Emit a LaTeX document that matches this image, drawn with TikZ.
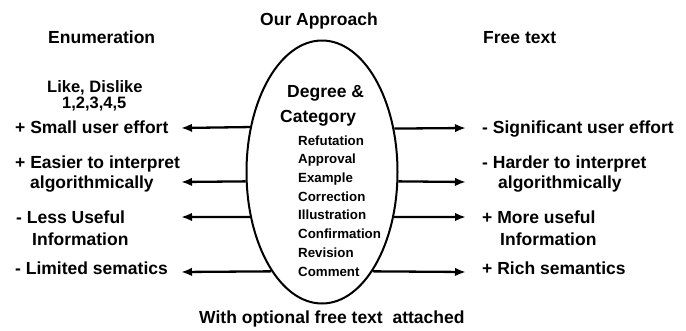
\documentclass[tikz,border=0pt]{standalone}
\usepackage{fontspec}
\setmainfont{Liberation Sans}
\usetikzlibrary{arrows.meta,shapes.geometric}
\begin{document}
\begin{tikzpicture}[x=1pt,y=-1pt,
  lbl/.style={anchor=base west, inner sep=0pt, font=\bfseries\fontsize{17.5}{20}\selectfont},
  sml/.style={anchor=base west, inner sep=0pt, font=\bfseries\fontsize{16.5}{18}\selectfont},
  item/.style={anchor=base west, inner sep=0pt, font=\bfseries\fontsize{13.3}{15}\selectfont},
  arr/.style={line width=2.3pt, -{Latex[length=11pt,width=8.5pt]}}]
\useasboundingbox (0,0) rectangle (686,330);
\node[draw, line width=2pt, ellipse, minimum width=151pt, minimum height=263pt, inner sep=0pt] (ell) at (322,172) {};
% titles
\node[lbl] (enum) at (48,43) {Enumeration};
\node[lbl] (ours) at (260,25) {Our Approach};
\node[lbl] (free) at (483,43) {Free text};
% left column
\node[sml] (like) at (47,92.5) {Like, Dislike};
\node[sml] (nums) at (62,108.5) {1,2,3,4,5};
\node[lbl] (l1) at (15,133) {+ Small user effort};
\node[lbl] (l2a) at (15,168) {+ Easier to interpret};
\node[lbl] (l2b) at (30,188) {algorithmically};
\node[lbl] (l3a) at (16,223) {- Less Useful};
\node[lbl] (l3b) at (32,245) {Information};
\node[lbl] (l4) at (15,274) {- Limited sematics};
% right column
\node[lbl] (r1) at (482,133) {- Significant user effort};
\node[lbl] (r2a) at (482,168) {- Harder to interpret};
\node[lbl] (r2b) at (498,188) {algorithmically};
\node[lbl] (r3a) at (482,223) {+ More useful};
\node[lbl] (r3b) at (500,245) {Information};
\node[lbl] (r4) at (482,274) {+ Rich semantics};
% centre
\node[lbl] (deg) at (287,97) {Degree \&};
\node[lbl] (cat) at (280,122) {Category};
\node[item] (c1) at (298,145) {Refutation};
\node[item] (c2) at (298,163.7) {Approval};
\node[item] (c3) at (298,182.4) {Example};
\node[item] (c4) at (298,201.1) {Correction};
\node[item] (c5) at (298,219.9) {Illustration};
\node[item] (c6) at (298,238.6) {Confirmation};
\node[item] (c7) at (298,257.3) {Revision};
\node[item] (c8) at (298,276) {Comment};
\node[lbl] (opt) at (199,323) {With optional free text\ \ attached};
% arrow end points
\coordinate (L1) at (181,128);
\coordinate (L2) at (181,182);
\coordinate (L3) at (181,217);
\coordinate (L4) at (181,272);
\coordinate (R1) at (466,128);
\coordinate (R2) at (466,182);
\coordinate (R3) at (466,217);
\coordinate (R4) at (466,272);
\draw[arr] (ell.148.25) -- (L1);
\draw[arr] (ell.187.56) -- (L2);
\draw[arr] (ell.212.4) -- (L3);
\draw[arr] (ell.243.9) -- (L4);
\draw[arr] (ell.31.75) -- (R1);
\draw[arr] (ell.-7.56) -- (R2);
\draw[arr] (ell.-32.4) -- (R3);
\draw[arr] (ell.-63.9) -- (R4);
\end{tikzpicture}
\end{document}
